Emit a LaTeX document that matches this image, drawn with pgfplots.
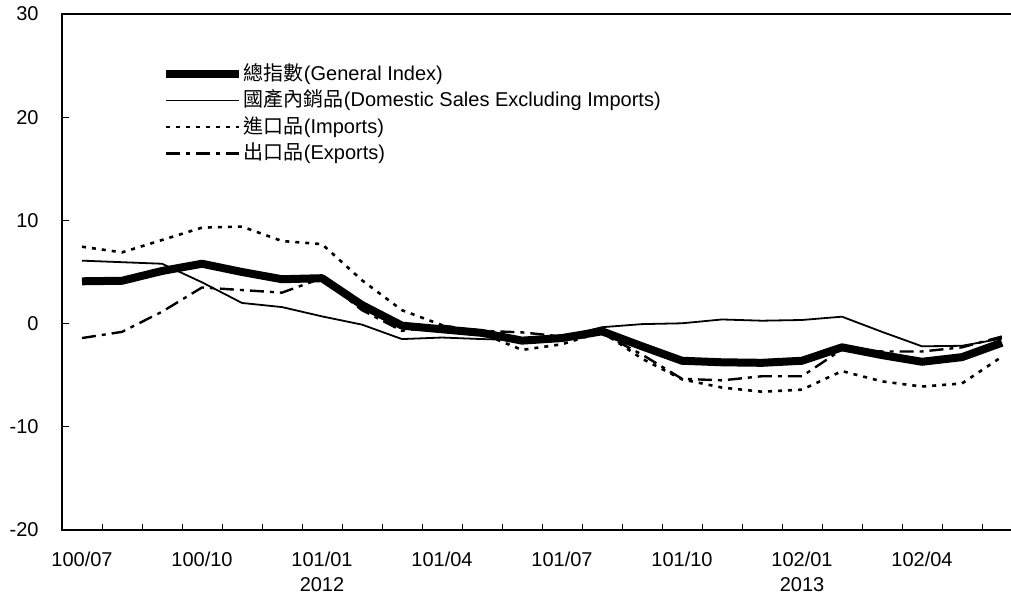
\documentclass[border=0pt]{standalone}
\usepackage{pgfplots}
\pgfplotsset{compat=1.18}
\usepackage{fontspec}
\setmainfont{Liberation Sans}
\newfontfamily\cjk{Noto Sans CJK TC}
\begin{document}
\begin{tikzpicture}
\begin{axis}[
  name=ax,
  width=480pt, height=258pt, scale only axis,
  xmin=-0.5, xmax=23.5, ymin=-20, ymax=30,
  axis line style={line width=1pt},
  tick align=inside, tick pos=left,
  major tick length=3.5pt, minor tick length=3pt,
  tick style={line width=0.5pt, black},
  xtick={0,3,...,21},
  xticklabels={100/07,100/10,101/01\\2012,101/04,101/07,101/10,102/01\\2013,102/04},
  major x tick style={draw=none},
  minor xtick={-0.5,0.5,...,23.5},
  xticklabel style={align=center, font=\fontsize{10}{12.5}\selectfont, inner sep=0pt, yshift=-11pt},
  ytick={-20,-10,0,10,20,30},
  yticklabels={-20,-10,0,10,20,30},
  yticklabel style={font=\fontsize{10}{12}\selectfont, inner sep=0pt, xshift=-11.5pt},
  legend style={at={(0.1035,0.91)}, anchor=north west, draw=none, fill=none,
    font=\fontsize{10}{12}\selectfont, row sep=0pt, inner sep=0pt,
    nodes={inner sep=0.6pt, text height=9pt, text depth=3.05pt}},
  legend cell align=left,
  legend image code/.code={\draw[#1] (0pt,0pt) -- (36.5pt,0pt);},
]
\addplot[black, line width=4pt, line join=round] coordinates {
(0,4.1) (1,4.15) (2,5.1) (3,5.8) (4,5.0) (5,4.3) (6,4.4) (7,1.8) (8,-0.2) (9,-0.55) (10,-0.9) (11,-1.65)
(12,-1.4) (13,-0.75) (14,-2.2) (15,-3.6) (16,-3.75) (17,-3.8) (18,-3.6) (19,-2.3) (20,-3.05) (21,-3.7) (22,-3.25) (23,-1.85)};
\addlegendentry{{\cjk 總指數}(General Index)}
\addplot[black, line width=0.9pt] coordinates {
(0,6.1) (1,5.95) (2,5.8) (3,4.0) (4,2.0) (5,1.6) (6,0.7) (7,-0.1) (8,-1.5) (9,-1.35) (10,-1.5) (11,-1.6)
(12,-1.3) (13,-0.35) (14,-0.05) (15,0.03) (16,0.4) (17,0.28) (18,0.35) (19,0.67) (20,-0.8) (21,-2.2) (22,-2.15) (23,-1.45)};
\addlegendentry{{\cjk 國產內銷品}(Domestic Sales Excluding Imports)}
\addplot[black, line width=1.3pt, dash pattern=on 2pt off 3pt] coordinates {
(0,7.45) (1,6.9) (2,8.1) (3,9.3) (4,9.4) (5,8.0) (6,7.7) (7,4.2) (8,1.3) (9,-0.15) (10,-0.95) (11,-2.55)
(12,-2.0) (13,-0.8) (14,-3.4) (15,-5.4) (16,-6.2) (17,-6.6) (18,-6.4) (19,-4.6) (20,-5.6) (21,-6.1) (22,-5.8) (23,-3.2)};
\addlegendentry{{\cjk 進口品}(Imports)}
\addplot[black, line width=1.2pt, dash pattern=on 7pt off 3pt on 2pt off 3pt] coordinates {
(0,-1.4) (1,-0.8) (2,1.15) (3,3.5) (4,3.25) (5,3.0) (6,4.4) (7,1.3) (8,-0.7) (9,-0.2) (10,-0.7) (11,-0.85)
(12,-1.25) (13,-0.95) (14,-3.0) (15,-5.35) (16,-5.5) (17,-5.1) (18,-5.1) (19,-2.5) (20,-2.7) (21,-2.7) (22,-2.3) (23,-1.25)};
\addlegendentry{{\cjk 出口品}(Exports)}
\end{axis}
\pgfresetboundingbox
\useasboundingbox ([xshift=-31pt,yshift=-34.5pt]ax.south west) rectangle ([xshift=474.5pt,yshift=7pt]ax.north west);
\end{tikzpicture}
\end{document}
